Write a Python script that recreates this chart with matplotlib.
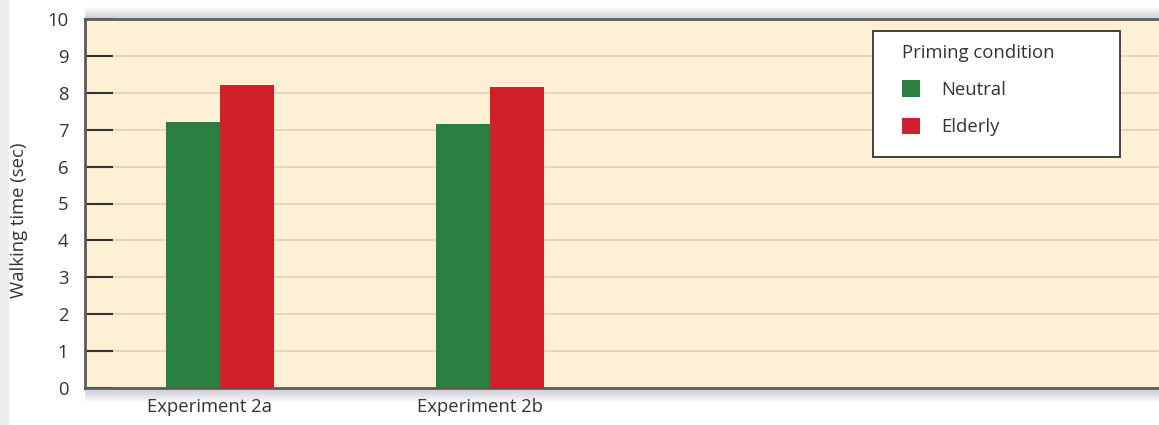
import matplotlib.pyplot as plt
import matplotlib.transforms as mtransforms
import numpy as np

experiments = ["Experiment 2a", "Experiment 2b"]
neutral = [7.2, 7.15]
elderly = [8.2, 8.15]
yticks = list(range(0, 11))

plt.rcParams["font.family"] = ["Open Sans", "DejaVu Sans"]
FS = 13.3

fig = plt.figure(figsize=(11.59, 4.25), dpi=100)
fig.patch.set_facecolor("white")
# light gray strip on the left edge
fig.patches.append(plt.Rectangle((0, 0), 8 / 1159, 1, transform=fig.transFigure,
                                 color="#ededed", zorder=0))

ax = fig.add_axes([85 / 1159, 1 - 388 / 425, 1 - 85 / 1159, (388 - 19) / 425])
ax.set_facecolor("#fdf0d5")

x = np.arange(len(experiments))
w = 0.2
ax.bar(x - w / 2, neutral, w, color="#2a7e3e", label="Neutral", zorder=3)
ax.bar(x + w / 2, elderly, w, color="#d2202a", label="Elderly", zorder=3)

ax.set_xlim(-0.5, 3.478)
ax.set_ylim(0, 10)
ax.set_yticks(yticks)
ax.yaxis.grid(True, color="#e3d5b8", linewidth=1.3, zorder=0)
ax.tick_params(axis="y", direction="in", length=20, width=1.5, color="#333333",
               labelsize=FS, labelcolor="#333333", pad=12)
ax.set_xticks(x)
ax.set_xticklabels(experiments, fontsize=FS, color="#333333")
ax.tick_params(axis="x", length=0, pad=7)
offset = mtransforms.ScaledTranslation(-10 / 100, 0, fig.dpi_scale_trans)
for lbl in ax.get_xticklabels():
    lbl.set_transform(lbl.get_transform() + offset)

ax.set_ylabel("Walking time (sec)", fontsize=FS, color="#333333")
ax.yaxis.set_label_coords((28 - 85) / 1074, (388 - 220) / 369)

for side in ["left", "bottom", "top"]:
    ax.spines[side].set_color("#5a5a5a")
    ax.spines[side].set_linewidth(2)
ax.spines["right"].set_visible(False)

# soft shadow above the top and below the bottom border
for i in range(12):
    a = 0.11 * (12 - i) / 12
    fig.patches.append(plt.Rectangle((85 / 1159, 1 - (19 - i) / 425), 1, 1 / 425,
                                     transform=fig.transFigure, color="#70708a",
                                     alpha=a, zorder=0))
    fig.patches.append(plt.Rectangle((85 / 1159, 1 - (390 + i) / 425), 1, 1 / 425,
                                     transform=fig.transFigure, color="#70708a",
                                     alpha=a, zorder=0))


def ax_x(px):
    return (px - 85) / 1074


def ax_y(py):
    return (388 - py) / 369


# legend box drawn separately so the padding can match
box = plt.Rectangle((ax_x(873), ax_y(157)), ax_x(1120) - ax_x(873), ax_y(31) - ax_y(157),
                    transform=ax.transAxes, facecolor="white", edgecolor="#333333",
                    linewidth=1.3, zorder=4)
ax.add_patch(box)
leg = ax.legend(title="Priming condition", loc="upper left",
                bbox_to_anchor=(ax_x(902), ax_y(44)),
                fontsize=FS, title_fontsize=FS, frameon=False,
                handlelength=1.0, handleheight=1.0, handletextpad=1.1,
                borderpad=0, labelspacing=1.0, alignment="left",
                borderaxespad=0)
for t in leg.get_texts():
    t.set_color("#333333")
leg.get_title().set_color("#333333")
leg.set_zorder(5)

fig.savefig("out.png", dpi=100)
